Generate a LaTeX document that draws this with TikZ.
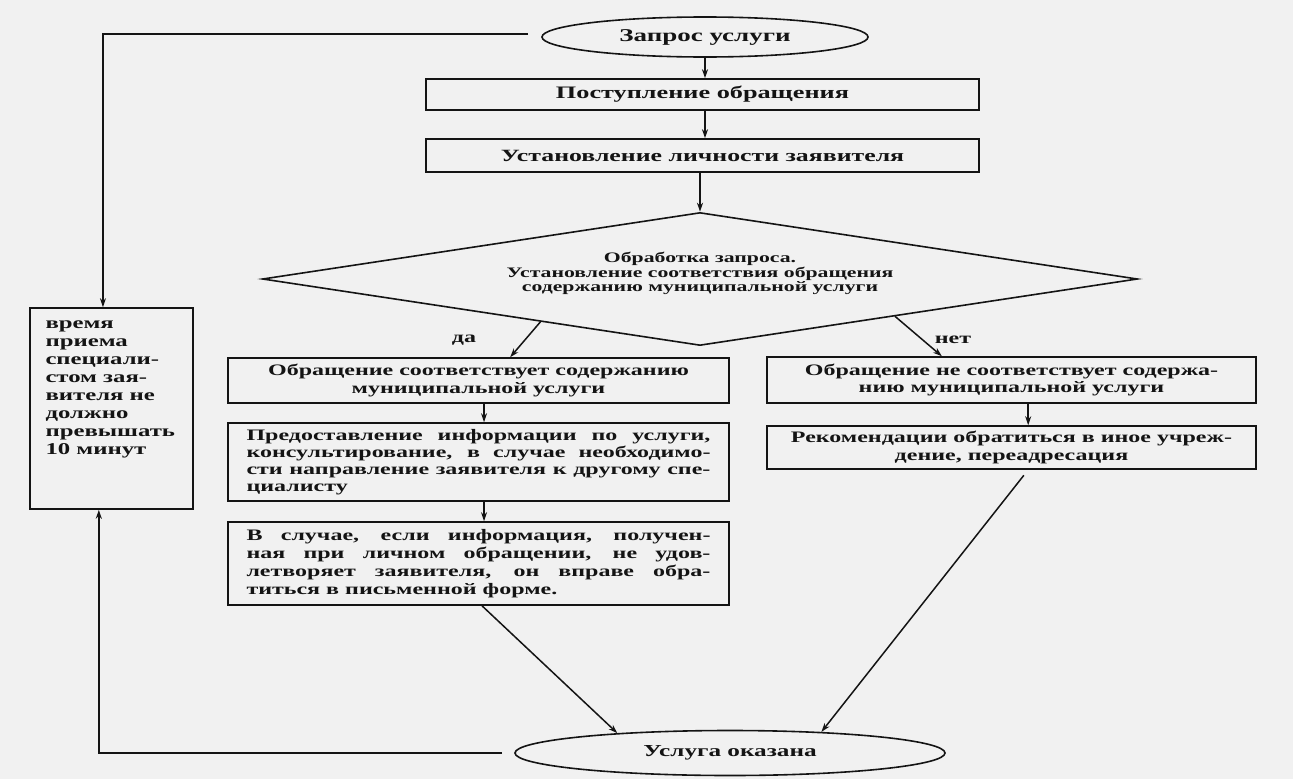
\documentclass[tikz,border=0pt]{standalone}
\usepackage{fontspec}
\setmainfont{Liberation Serif}[FakeStretch=1.5]
\usetikzlibrary{shapes.geometric,arrows.meta,calc}
\definecolor{bg}{RGB}{241,241,241}
\definecolor{ink}{RGB}{20,20,20}
\tikzset{
  every node/.style={text=ink, font=\bfseries\fontsize{16}{17.5}\selectfont},
  blk/.style={draw=ink, line width=1.6pt, rectangle, inner sep=0pt, align=center},
  oval/.style={draw=ink, line width=1.6pt, ellipse, inner sep=0pt},
  conn/.style={draw=ink, line width=1.5pt},
  arr/.style={conn, -{Stealth[length=9pt,width=6pt]}},
}
\begin{document}
\begin{tikzpicture}[x=1pt,y=-1pt]
\fill[bg] (0,0) rectangle (1293,779);
\useasboundingbox (0,0) rectangle (1293,779);

\node[oval, minimum width=326pt, minimum height=40pt, font=\bfseries\fontsize{18}{20}\selectfont] (E1) at (705,37) {Запрос услуги};
\node[blk, minimum width=553pt, minimum height=31pt, font=\bfseries\fontsize{17.5}{19}\selectfont] (B1) at (702.5,94.5) {Поступление обращения};
\node[blk, minimum width=553pt, minimum height=33pt, font=\bfseries\fontsize{17.2}{19}\selectfont] (B2) at (702.5,155.5) {Установление личности заявителя};
\node[diamond, draw=ink, line width=1.6pt, inner sep=0pt, shape aspect=6.58, minimum width=875pt, minimum height=133pt] (D) at (700,279) {\raisebox{5pt}[\height][\depth]{\fontsize{14.5}{14.5}\selectfont\begin{tabular}{@{}c@{}}Обработка запроса.\\Установление соответствия обращения\\содержанию муниципальной услуги\end{tabular}}};

\node[blk, minimum width=163pt, minimum height=201pt] (L) at (111.5,408.5) {\parbox[t][185pt][t]{132pt}{\raggedright\fontsize{16.5}{18}\selectfont\strut время\\приема\\специали-\\стом зая-\\вителя не\\должно\\превышать\\10 минут}};

\node[blk, minimum width=501pt, minimum height=45pt] (B3) at (478.5,380.5) {Обращение соответствует содержанию\\муниципальной услуги};
\node[blk, minimum width=501pt, minimum height=78pt, text width=464pt, align=justify, font=\bfseries\fontsize{16}{16.8}\selectfont] (B4) at (478.5,462) {Предоставление информации по услуги,\linebreak консультирование, в случае необходимо-\linebreak сти направление заявителя к другому спе-\linebreak циалисту};
\node[blk, minimum width=501pt, minimum height=83pt, text width=464pt, align=justify, font=\bfseries\fontsize{16}{18}\selectfont] (B5) at (478.5,563.5) {В случае, если информация, получен-\linebreak ная при личном обращении, не удов-\linebreak летворяет заявителя, он вправе обра-\linebreak титься в письменной форме.};

\node[blk, minimum width=489pt, minimum height=46pt] (R1) at (1011.5,380) {Обращение не соответствует содержа-\\нию муниципальной услуги};
\node[blk, minimum width=489pt, minimum height=43pt] (R2) at (1011.5,447.5) {Рекомендации обратиться в иное учреж-\\дение, переадресация};

\node[oval, minimum width=430pt, minimum height=45pt, font=\bfseries\fontsize{16.8}{18}\selectfont] (E2) at (730,753) {Услуга оказана};

\node (yes) at (464,340) {да};
\node (no) at (953,340) {нет};

% main flow
\draw[arr] (E1.south) -- (E1.south |- B1.north);
\draw[arr] (E1.south |- B1.south) -- (E1.south |- B2.north);
\draw[arr] (D.north |- B2.south) -- (D.north);
% branches
\draw[arr] ($(D.west)!0.636!(D.south)$) -- ($(B3.north west)!0.563!(B3.north east)$);
\draw[arr] ($(D.south)!0.445!(D.east)$) -- ($(R1.north west)!0.358!(R1.north east)$);
\draw[arr] ($(B3.south west)!0.511!(B3.south east)$) -- ($(B4.north west)!0.511!(B4.north east)$);
\draw[arr] ($(B4.south west)!0.511!(B4.south east)$) -- ($(B5.north west)!0.511!(B5.north east)$);
\draw[arr] ($(R1.south west)!0.534!(R1.south east)$) -- ($(R2.north west)!0.534!(R2.north east)$);
% to the end
\draw[arr] ($(B5.south west)!0.507!(B5.south east)$) -- (E2.170);
\draw[arr, shorten <=7pt] ($(R2.south west)!0.534!(R2.south east)$) -- (E2.13);
% side loop
\draw[arr] ([xshift=-13pt,yshift=3pt]E1.west) -| ($(L.north west)!0.448!(L.north east)$);
\draw[arr] ([xshift=-12pt]E2.west) -| ($(L.south west)!0.423!(L.south east)$);
\end{tikzpicture}
\end{document}
